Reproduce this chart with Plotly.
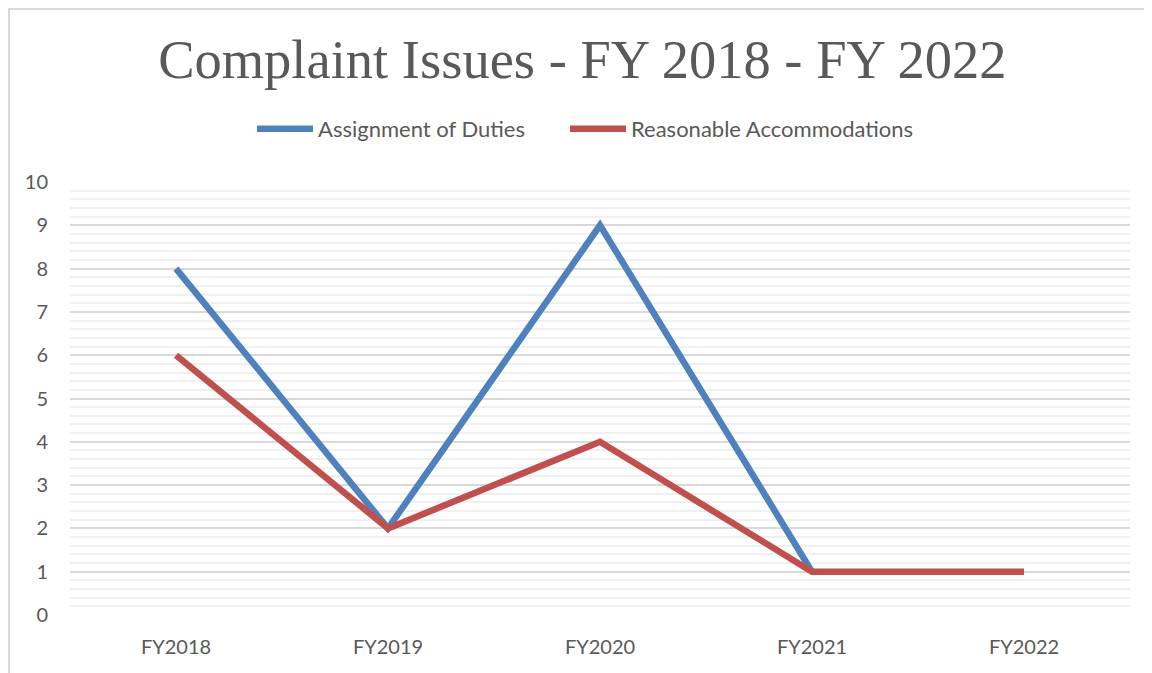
import plotly.graph_objects as go

categories = ["FY2018", "FY2019", "FY2020", "FY2021", "FY2022"]
assignment_of_duties = [8, 2, 9, 1, None]
reasonable_accommodations = [6, 2, 4, 1, 1]
y_ticks = [0, 1, 2, 3, 4, 5, 6, 7, 8, 9, 10]

W, H = 1144, 665
L, R, T, B = 62, 22, 174, 58
PW, PH = W - L - R, H - T - B

fig = go.Figure()
fig.add_trace(go.Scatter(x=categories, y=assignment_of_duties, mode="lines",
                         name="Assignment of Duties", legend="legend", showlegend=True,
                         line=dict(color="#4F81BD", width=6.5), connectgaps=False))
fig.add_trace(go.Scatter(x=categories, y=reasonable_accommodations, mode="lines",
                         name="Reasonable Accommodations", legend="legend2", showlegend=True,
                         line=dict(color="#C0504D", width=6.5)))

leg_common = dict(orientation="h", xanchor="left", yanchor="middle",
                  y=1 + (T - 121) / PH, bgcolor="rgba(0,0,0,0)",
                  font=dict(family="Lato", size=22, color="#595959"), itemwidth=56)

fig.update_layout(
    width=W, height=H,
    margin=dict(l=L, r=R, t=T, b=B),
    paper_bgcolor="white", plot_bgcolor="white",
    showlegend=True,
    title=dict(text="Complaint Issues - FY 2018 - FY 2022", x=0.502, xanchor="center",
               y=1 - 51 / H, yanchor="middle",
               font=dict(family="Liberation Serif", size=54.5, color="#595959")),
    legend=dict(x=(244 - L) / PW, visible=True, **leg_common),
    legend2=dict(x=(557 - L) / PW, visible=True, **leg_common),
    xaxis=dict(type="category", range=[-0.5, 4.5], showgrid=False, zeroline=False,
               showline=False, ticks="", tickfont=dict(family="Lato", size=20, color="#595959"),
               ticklabelstandoff=18),
    yaxis=dict(range=[0, 10], tickvals=y_ticks, showgrid=True, gridcolor="#D9D9D9",
               gridwidth=1.5, zeroline=False, showline=False, ticks="",
               tickfont=dict(family="Lato", size=20, color="#595959"),
               ticklabelstandoff=21,
               minor=dict(dtick=0.2, showgrid=True, gridcolor="#F0F0F0", gridwidth=1.5)),
    shapes=[dict(type="rect", xref="paper", yref="paper",
                 x0=(1 - L) / PW, x1=1.2, y0=-0.3, y1=1 + (T - 1) / PH,
                 line=dict(color="#D9D9D9", width=2), fillcolor="rgba(0,0,0,0)",
                 layer="below")],
)
fig.write_html("out.html")
